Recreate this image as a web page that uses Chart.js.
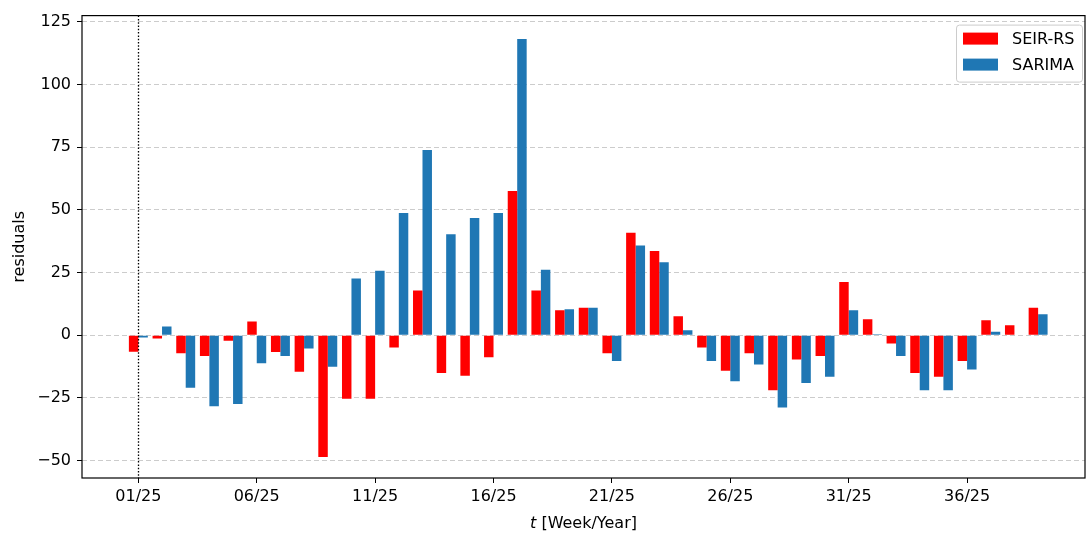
<!DOCTYPE html>
<html>
<head>
<meta charset="utf-8">
<script src="https://cdn.jsdelivr.net/npm/chart.js@4"></script>
<style>
    html, body { margin: 0; padding: 0; background: #fff; }
    #wrap { width: 1086px; height: 533px; }
</style>
</head>
<body>
<div id="wrap"><canvas id="residChart" width="1086" height="533"></canvas></div>
<script>
// semaines 01/25 .. 39/25
const semaines = [1, 2, 3, 4, 5, 6, 7, 8, 9, 10, 11, 12, 13, 14, 15, 16, 17, 18, 19, 20,
    21, 22, 23, 24, 25, 26, 27, 28, 29, 30, 31, 32, 33, 34, 35, 36, 37, 38, 39];

const seirRS = [-6.6, -1.3, -7.2, -8.3, -2.2, 5.4, -6.7, -14.6, -48.6, -25.4,
    -25.4, -4.9, 17.8, -15.1, -16.2, -8.8, 57.5, 17.8, 9.9, 10.9,
    -7.2, 40.9, 33.6, 7.5, -4.9, -14.2, -7.2, -22.0, -9.7, -8.3,
    21.2, 6.3, -3.3, -15.1, -16.6, -10.3, 5.9, 3.9, 10.9];

const sarima = [-0.9, 3.4, -21.0, -28.4, -27.5, -11.2, -8.3, -5.3, -12.6, 22.6,
    25.7, 48.7, 73.9, 40.3, 46.7, 48.7, 118.2, 26.1, 10.3, 10.9,
    -10.3, 35.8, 29.1, 2.0, -10.3, -18.4, -11.7, -28.9, -19.1, -16.6,
    9.9, 0.4, -8.3, -22.0, -22.0, -13.7, 1.4, 0, 8.3];

const tickSemaines = [1, 6, 11, 16, 21, 26, 31, 36];
const tickLabels = ["01/25", "06/25", "11/25", "16/25", "21/25", "26/25", "31/25", "36/25"];
const yTicks = [-50, -25, 0, 25, 50, 75, 100, 125];

const FONT = "'DejaVu Sans', sans-serif";
const TAILLE = 16;

// légende, ligne pointillée, cadre et titre de l'axe x
const decor = {
    id: "decor",
    afterDraw(chart) {
        const ctx = chart.ctx;
        const area = chart.chartArea;
        const xs = chart.scales.x;

        // ligne verticale pointillée à la semaine 1
        const xv = Math.round(xs.getPixelForValue(semaines[0])) + 0.5;
        ctx.save();
        ctx.strokeStyle = "#000";
        ctx.lineWidth = 1.3;
        ctx.setLineDash([1.5, 1.8]);
        ctx.beginPath();
        ctx.moveTo(xv, area.top);
        ctx.lineTo(xv, area.bottom);
        ctx.stroke();
        ctx.restore();

        // cadre
        ctx.save();
        ctx.strokeStyle = "#000";
        ctx.lineWidth = 1.2;
        ctx.strokeRect(area.left, area.top, area.right - area.left, area.bottom - area.top);
        ctx.restore();

        // titre axe x : t italique
        ctx.save();
        ctx.fillStyle = "#000";
        ctx.textBaseline = "middle";
        const partA = "t";
        const partB = " [Week/Year]";
        ctx.font = "italic " + TAILLE + "px " + FONT;
        const wA = ctx.measureText(partA).width;
        ctx.font = TAILLE + "px " + FONT;
        const wB = ctx.measureText(partB).width;
        const cx = (area.left + area.right) / 2;
        const x0 = cx - (wA + wB) / 2;
        const yT = 524;
        ctx.font = "italic " + TAILLE + "px " + FONT;
        ctx.fillText(partA, x0, yT);
        ctx.font = TAILLE + "px " + FONT;
        ctx.fillText(partB, x0 + wA, yT);
        ctx.restore();

        // légende
        const lx = area.right - 129, ly = area.top + 9, lw = 126, lh = 57;
        ctx.save();
        ctx.fillStyle = "rgba(255,255,255,0.8)";
        ctx.strokeStyle = "#cccccc";
        ctx.lineWidth = 1;
        ctx.beginPath();
        ctx.roundRect(lx + 0.5, ly + 0.5, lw, lh, 3);
        ctx.fill();
        ctx.stroke();
        ctx.font = TAILLE + "px " + FONT;
        ctx.textBaseline = "middle";
        chart.data.datasets.forEach((ds, i) => {
            const yy = ly + 14 + i * 26;
            ctx.fillStyle = ds.backgroundColor;
            ctx.fillRect(lx + 7, yy - 6, 35, 12);
            ctx.fillStyle = "#000";
            ctx.fillText(ds.label, lx + 56, yy + 1);
        });
        ctx.restore();
    }
};

const ctx = document.getElementById("residChart");
new Chart(ctx, {
    type: "bar",
    data: {
        datasets: [
            {
                label: "SEIR-RS",
                data: semaines.map((s, i) => ({ x: s, y: seirRS[i] })),
                backgroundColor: "#ff0000",
                borderWidth: 0,
                categoryPercentage: 0.8,
                barPercentage: 1.0,
            },
            {
                label: "SARIMA",
                data: semaines.map((s, i) => ({ x: s, y: sarima[i] })),
                backgroundColor: "#1f77b4",
                borderWidth: 0,
                categoryPercentage: 0.8,
                barPercentage: 1.0,
            },
        ],
    },
    options: {
        responsive: false,
        animation: false,
        layout: { padding: { top: 14, right: 1, left: 0, bottom: 0 } },
        plugins: {
            legend: { display: false },
            tooltip: { enabled: false },
        },
        scales: {
            x: {
                type: "linear",
                offset: false,
                min: -1.38,
                max: 40.98,
                afterBuildTicks: (scale) => {
                    scale.ticks = tickSemaines.map(v => ({ value: v }));
                },
                afterFit: (scale) => { scale.height = 55; },
                ticks: {
                    autoSkip: false,
                    maxRotation: 0,
                    color: "#000",
                    padding: 4,
                    font: { family: FONT, size: TAILLE },
                    callback: (v) => tickLabels[tickSemaines.indexOf(v)],
                },
                grid: {
                    offset: false,
                    drawOnChartArea: false,
                    drawTicks: true,
                    tickLength: 5,
                    tickColor: "#000",
                },
                border: { display: false },
            },
            y: {
                min: -57,
                max: 127.5,
                afterBuildTicks: (scale) => {
                    scale.ticks = yTicks.map(v => ({ value: v }));
                },
                afterFit: (scale) => { scale.width = 82; },
                ticks: {
                    color: "#000",
                    padding: 6,
                    font: { family: FONT, size: TAILLE },
                    callback: (v) => (v < 0 ? "\u2212" + Math.abs(v) : String(v)),
                },
                grid: {
                    color: "#cccccc",
                    lineWidth: 1,
                    tickLength: 5,
                    tickColor: "#000",
                    tickBorderDash: [],
                },
                border: { display: false, dash: [5, 3] },
                title: {
                    display: true,
                    text: "residuals",
                    color: "#000",
                    font: { family: FONT, size: TAILLE },
                    padding: { top: 10, bottom: 4 },
                },
            },
        },
    },
    plugins: [decor],
});
</script>
</body>
</html>
